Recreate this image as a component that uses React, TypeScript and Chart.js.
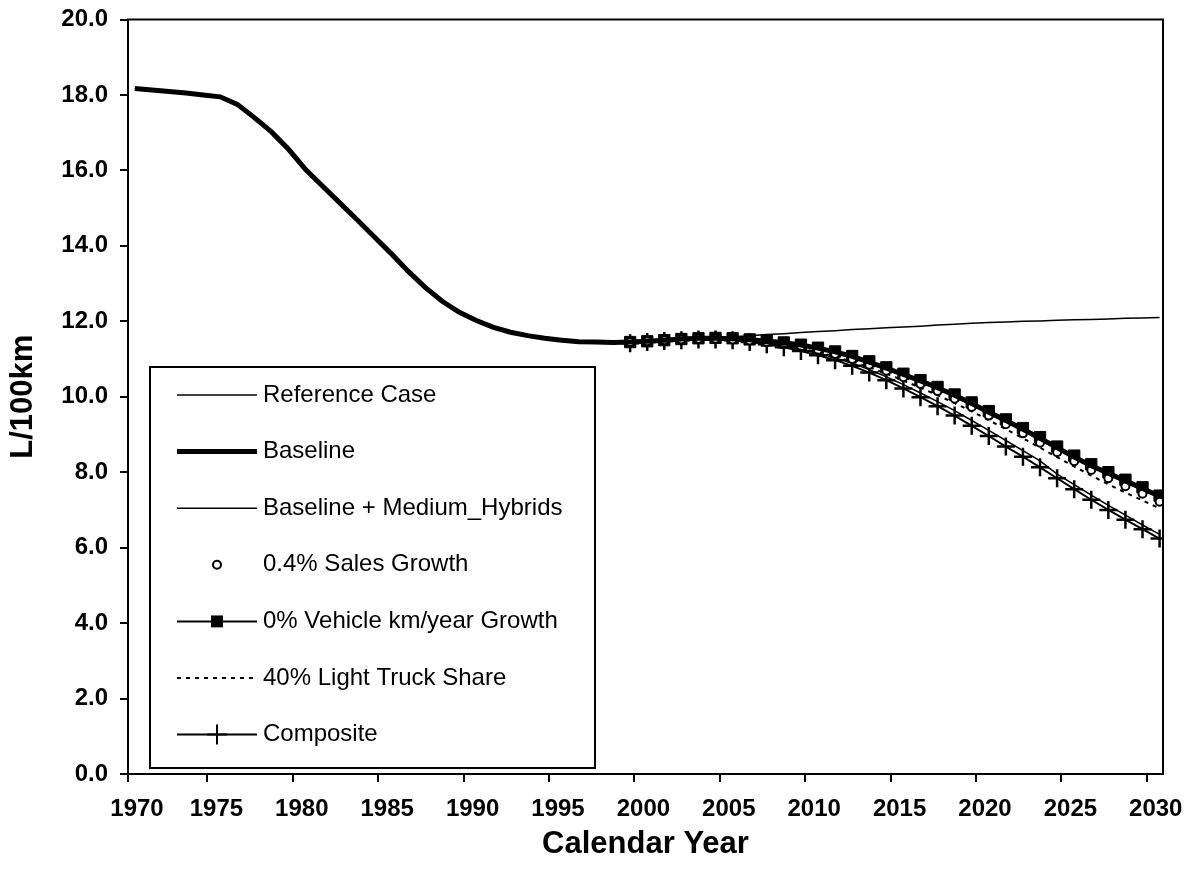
import React, { useEffect, useRef } from "react";
import { Chart, registerables } from "chart.js";

Chart.register(...registerables);

// ---------- data ----------
const historyYears = [
  1970, 1971, 1972, 1973, 1974, 1975, 1976, 1977, 1978, 1979,
  1980, 1981, 1982, 1983, 1984, 1985, 1986, 1987, 1988, 1989,
  1990, 1991, 1992, 1993, 1994, 1995, 1996, 1997, 1998,
];
const historyValues = [
  18.17, 18.13, 18.09, 18.05, 18.0, 17.95, 17.75, 17.4, 17.02, 16.56,
  16.02, 15.58, 15.14, 14.7, 14.25, 13.8, 13.33, 12.9, 12.53, 12.24,
  12.02, 11.84, 11.71, 11.62, 11.55, 11.5, 11.46, 11.45, 11.44,
];

const projectionYears = [
  1999, 2000, 2001, 2002, 2003, 2004, 2005, 2006, 2007, 2008,
  2009, 2010, 2011, 2012, 2013, 2014, 2015, 2016, 2017, 2018,
  2019, 2020, 2021, 2022, 2023, 2024, 2025, 2026, 2027, 2028,
  2029, 2030,
];

const referenceCase = [
  11.45, 11.46, 11.48, 11.5, 11.53, 11.56, 11.59, 11.62, 11.65, 11.67,
  11.7, 11.73, 11.75, 11.78, 11.8, 11.83, 11.85, 11.87, 11.9, 11.92,
  11.95, 11.97, 11.98, 12.0, 12.01, 12.03, 12.04, 12.05, 12.06, 12.08,
  12.09, 12.1,
];
const baseline = [
  11.45, 11.47, 11.5, 11.53, 11.55, 11.55, 11.54, 11.51, 11.48, 11.43,
  11.37, 11.29, 11.19, 11.07, 10.92, 10.76, 10.59, 10.42, 10.24, 10.04,
  9.82, 9.59, 9.37, 9.14, 8.9, 8.65, 8.4, 8.17, 7.97, 7.77,
  7.57, 7.36,
];
const mediumHybrids = [
  11.43, 11.46, 11.49, 11.51, 11.53, 11.53, 11.51, 11.47, 11.41, 11.34,
  11.25, 11.15, 11.03, 10.89, 10.72, 10.53, 10.32, 10.1, 9.87, 9.63,
  9.37, 9.11, 8.84, 8.57, 8.3, 7.95, 7.67, 7.39, 7.12, 6.86,
  6.6, 6.35,
];
const salesGrowth = [
  11.45, 11.47, 11.5, 11.52, 11.54, 11.54, 11.52, 11.49, 11.45, 11.4,
  11.33, 11.24, 11.13, 11.0, 10.85, 10.69, 10.52, 10.34, 10.15, 9.95,
  9.73, 9.5, 9.27, 9.03, 8.78, 8.53, 8.29, 8.06, 7.84, 7.63,
  7.43, 7.22,
];
const vktGrowth = [
  11.45, 11.47, 11.5, 11.53, 11.55, 11.56, 11.55, 11.52, 11.49, 11.44,
  11.38, 11.3, 11.2, 11.08, 10.94, 10.78, 10.61, 10.44, 10.26, 10.06,
  9.85, 9.62, 9.4, 9.17, 8.93, 8.68, 8.44, 8.21, 8.0, 7.8,
  7.6, 7.38,
];
const lightTruckShare = [
  11.44, 11.46, 11.49, 11.51, 11.53, 11.53, 11.51, 11.47, 11.42, 11.36,
  11.28, 11.18, 11.07, 10.93, 10.78, 10.61, 10.43, 10.24, 10.04, 9.83,
  9.61, 9.38, 9.14, 8.9, 8.65, 8.4, 8.15, 7.91, 7.68, 7.46,
  7.25, 7.04,
];
const composite = [
  11.42, 11.45, 11.48, 11.5, 11.52, 11.52, 11.5, 11.45, 11.39, 11.31,
  11.21, 11.1, 10.97, 10.82, 10.64, 10.44, 10.22, 9.99, 9.75, 9.5,
  9.23, 8.96, 8.68, 8.41, 8.13, 7.84, 7.55, 7.27, 7.0, 6.74,
  6.49, 6.24,
];

const seriesLabels = [
  "Reference Case",
  "Baseline",
  "Baseline + Medium_Hybrids",
  "0.4% Sales Growth",
  "0% Vehicle km/year Growth",
  "40% Light Truck Share",
  "Composite",
];

const xTickYears = [1970, 1975, 1980, 1985, 1990, 1995, 2000, 2005, 2010, 2015, 2020, 2025, 2030];

const xTitle = "Calendar Year";
const yTitle = "L/100km";

// ---------- styling constants ----------
const FONT = '"Liberation Sans", Arial, Helvetica, sans-serif';
const X_MIN = 1969.6;
const X_MAX = 2030.2;
const TICK_SHIFT = 0.75;

function pairs(xs: number[], ys: number[]) {
  return xs.map((x, i) => ({ x, y: ys[i] }));
}

function drawMarker(ctx: CanvasRenderingContext2D, style: string, x: number, y: number, r: number, fill: string) {
  ctx.save();
  ctx.lineWidth = 2;
  ctx.strokeStyle = "#000";
  ctx.fillStyle = fill;
  ctx.setLineDash([]);
  if (style === "circle") {
    ctx.beginPath();
    ctx.arc(x, y, r, 0, Math.PI * 2);
    ctx.fill();
    ctx.stroke();
  } else if (style === "rect") {
    const s = r * Math.SQRT1_2;
    ctx.fillRect(x - s, y - s, 2 * s, 2 * s);
    ctx.strokeRect(x - s, y - s, 2 * s, 2 * s);
  } else if (style === "cross") {
    ctx.beginPath();
    ctx.moveTo(x - r, y);
    ctx.lineTo(x + r, y);
    ctx.moveTo(x, y - r);
    ctx.lineTo(x, y + r);
    ctx.stroke();
  }
  ctx.restore();
}

const framePlugin = {
  id: "frame",
  afterDatasetsDraw(chart: any) {
    const { ctx, chartArea: a } = chart;
    ctx.save();
    ctx.strokeStyle = "#000";
    ctx.lineWidth = 2;
    ctx.strokeRect(a.left, a.top, a.right - a.left, a.bottom - a.top);
    ctx.restore();
  },
};

const legendPlugin = {
  id: "boxLegend",
  afterDraw(chart: any) {
    const { ctx, chartArea: a } = chart;
    const left = a.left + 22;
    const right = a.left + 467;
    const top = a.bottom - 407;
    const bottom = a.bottom - 6;
    ctx.save();
    ctx.fillStyle = "#fff";
    ctx.fillRect(left, top, right - left, bottom - top);
    ctx.strokeStyle = "#000";
    ctx.lineWidth = 2;
    ctx.strokeRect(left, top, right - left, bottom - top);

    const x0 = left + 27;
    const x1 = left + 107;
    const xm = left + 67;
    const textX = left + 113;
    const firstRow = top + 28;
    const rowGap = 56.6;
    chart.data.datasets.forEach((ds: any, i: number) => {
      const y = firstRow + i * rowGap;
      if (ds.showLine !== false) {
        ctx.save();
        ctx.strokeStyle = "#000";
        ctx.lineWidth = ds.borderWidth;
        ctx.setLineDash(ds.borderDash || []);
        ctx.beginPath();
        ctx.moveTo(x0, y);
        ctx.lineTo(x1, y);
        ctx.stroke();
        ctx.restore();
      }
      if (ds.pointRadius > 0) {
        const lr = ds.pointStyle === "cross" ? 10 : ds.pointStyle === "rect" ? 7 : 4;
        drawMarker(ctx, ds.pointStyle, xm, y, lr, ds.pointBackgroundColor || "#000");
      }
      ctx.fillStyle = "#000";
      ctx.font = `24px ${FONT}`;
      ctx.textBaseline = "middle";
      ctx.textAlign = "left";
      ctx.fillText(ds.label, textX, y);
    });
    ctx.restore();
  },
};

export default function App() {
  const canvasRef = useRef<HTMLCanvasElement | null>(null);

  useEffect(() => {
    if (!canvasRef.current) return;
    const fullYears = historyYears.concat(projectionYears);
    const chart = new Chart(canvasRef.current, {
      type: "line",
      data: {
        datasets: [
          {
            label: seriesLabels[0],
            data: pairs(fullYears, historyValues.concat(referenceCase)),
            borderColor: "#000",
            borderWidth: 1.5,
            pointRadius: 0,
          },
          {
            label: seriesLabels[1],
            data: pairs(fullYears, historyValues.concat(baseline)),
            borderColor: "#000",
            borderWidth: 5,
            pointRadius: 0,
          },
          {
            label: seriesLabels[2],
            data: pairs(projectionYears, mediumHybrids),
            borderColor: "#000",
            borderWidth: 1.5,
            pointRadius: 0,
          },
          {
            label: seriesLabels[3],
            data: pairs(projectionYears, salesGrowth),
            showLine: false,
            borderColor: "#000",
            borderWidth: 2,
            pointStyle: "circle",
            pointRadius: 4,
            pointBorderWidth: 2,
            pointBackgroundColor: "#fff",
            pointBorderColor: "#000",
          },
          {
            label: seriesLabels[4],
            data: pairs(projectionYears, vktGrowth),
            borderColor: "#000",
            borderWidth: 2,
            pointStyle: "rect",
            pointRadius: 8,
            pointBorderWidth: 1,
            pointBackgroundColor: "#000",
            pointBorderColor: "#000",
          },
          {
            label: seriesLabels[5],
            data: pairs(projectionYears, lightTruckShare),
            borderColor: "#000",
            borderWidth: 2,
            borderDash: [4, 5],
            pointRadius: 0,
          },
          {
            label: seriesLabels[6],
            data: pairs(projectionYears, composite),
            borderColor: "#000",
            borderWidth: 2,
            pointStyle: "cross",
            pointRadius: 9,
            pointBorderWidth: 2.5,
            pointBorderColor: "#000",
            pointBackgroundColor: "#000",
          },
        ],
      },
      options: {
        animation: false,
        responsive: false,
        devicePixelRatio: 1,
        layout: { padding: { top: 10, right: 25, left: 0, bottom: 0 } },
        plugins: {
          legend: { display: false },
          tooltip: { enabled: false },
        },
        elements: { line: { tension: 0 } },
        scales: {
          x: {
            type: "linear",
            min: X_MIN,
            max: X_MAX,
            border: { display: false },
            grid: {
              drawOnChartArea: false,
              drawTicks: true,
              tickLength: 8,
              color: "#000",
              lineWidth: 2,
            },
            afterBuildTicks: (scale: any) => {
              scale.ticks = xTickYears.map((y) => ({ value: Math.max(X_MIN, y - TICK_SHIFT) }));
            },
            afterFit: (scale: any) => {
              scale.height = 105;
              scale.paddingLeft = 0;
              scale.paddingRight = 0;
            },
            ticks: {
              autoSkip: false,
              maxRotation: 0,
              minRotation: 0,
              padding: 13,
              labelOffset: 9,
              color: "#000",
              font: { family: FONT, size: 24, weight: "bold" },
              callback: (_v: any, i: number) => String(xTickYears[i]),
            },
            title: {
              display: true,
              text: xTitle,
              color: "#000",
              font: { family: FONT, size: 31, weight: "bold", lineHeight: 1.2 },
              padding: { top: 0, bottom: 16 },
            },
          },
          y: {
            type: "linear",
            min: 0,
            max: 20,
            border: { display: false },
            grid: {
              drawOnChartArea: false,
              drawTicks: true,
              tickLength: 8,
              color: "#000",
              lineWidth: 2,
            },
            afterFit: (scale: any) => {
              scale.width = 120;
              scale.paddingTop = 0;
              scale.paddingBottom = 0;
            },
            ticks: {
              stepSize: 2,
              padding: 12,
              color: "#000",
              font: { family: FONT, size: 24, weight: "bold" },
              callback: (v: any) => Number(v).toFixed(1),
            },
            title: {
              display: true,
              text: yTitle,
              color: "#000",
              font: { family: FONT, size: 31, weight: "bold", lineHeight: 1 },
              padding: { top: 0, bottom: 0 },
            },
          },
        },
      },
      plugins: [framePlugin, legendPlugin],
    } as any);
    return () => chart.destroy();
  }, []);

  return (
    <div style={{ width: 1180, height: 871, position: "relative" }}>
      <canvas ref={canvasRef} width={1180} height={871} style={{ display: "block" }} />
    </div>
  );
}
